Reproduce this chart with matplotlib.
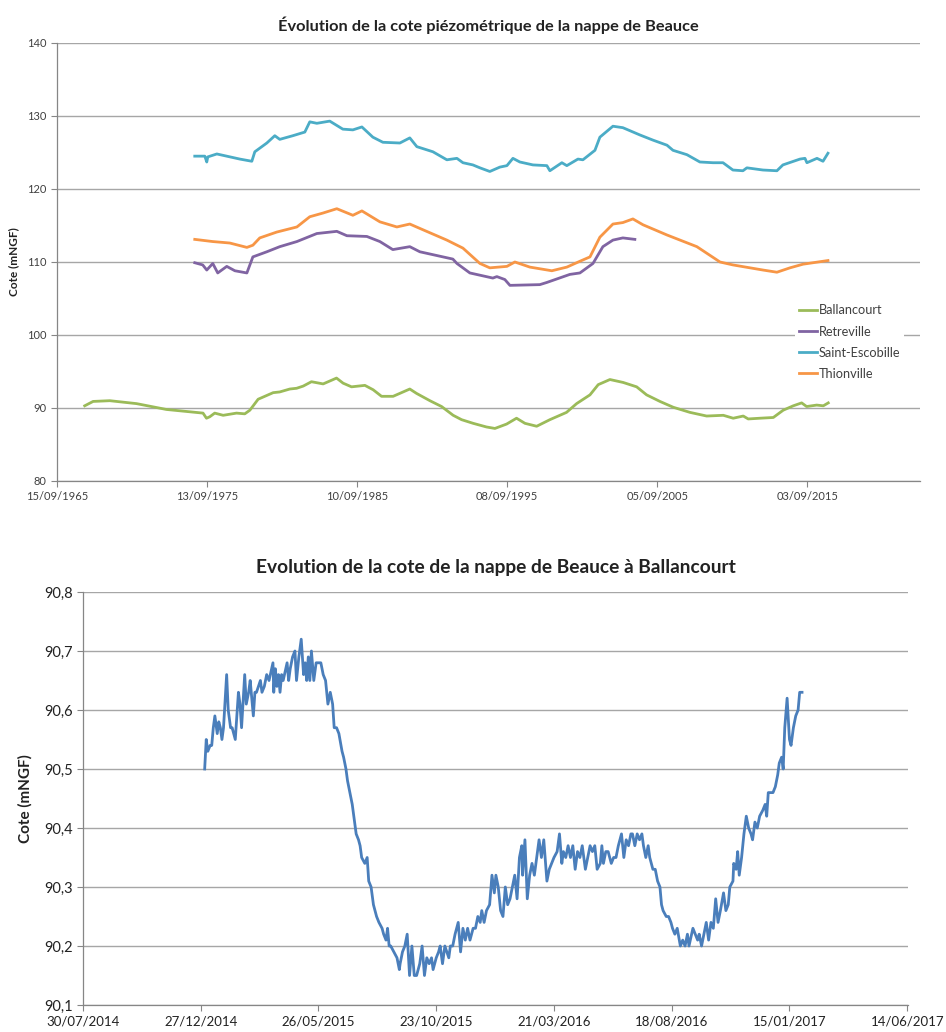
import matplotlib
matplotlib.use("Agg")
import matplotlib.pyplot as plt
import matplotlib.dates as mdates
from matplotlib.ticker import FixedLocator, FuncFormatter
import pandas as pd
import numpy as np

plt.rcParams['font.family'] = ['Lato', 'DejaVu Sans']

# ---------------- Top chart data (decimal years, mNGF) ----------------
ball_years = [1967.55, 1968.11, 1969.22, 1971.00, 1972.99, 1975.43, 1975.66, 1975.88, 1976.21, 1976.77,
              1977.66, 1978.21, 1978.55, 1979.10, 1980.10, 1980.54, 1981.21, 1981.66, 1982.10, 1982.65,
              1983.43, 1983.99, 1984.32, 1984.76, 1985.32, 1986.21, 1986.76, 1987.32, 1988.09, 1989.20,
              1989.65, 1990.54, 1991.32, 1992.09, 1992.65, 1993.42, 1994.31, 1994.87, 1995.65, 1996.31,
              1996.87, 1997.65, 1998.53, 1999.64, 2000.31, 2001.20, 2001.75, 2002.53, 2003.41, 2004.31,
              2004.97, 2005.86, 2006.75, 2007.86, 2008.97, 2010.08, 2010.74, 2011.41, 2011.74, 2012.52,
              2013.41, 2014.07, 2014.74, 2015.30, 2015.63, 2016.30, 2016.74, 2017.07]
ball_vals = [90.3, 90.9, 91.0, 90.6, 89.8, 89.3, 88.6, 88.8, 89.3, 89.0,
             89.3, 89.2, 89.7, 91.2, 92.1, 92.2, 92.6, 92.7, 93.0, 93.6,
             93.3, 93.8, 94.1, 93.4, 92.9, 93.1, 92.5, 91.6, 91.6, 92.6,
             92.0, 91.0, 90.2, 89.0, 88.4, 87.9, 87.4, 87.2, 87.8, 88.6,
             87.9, 87.5, 88.4, 89.4, 90.6, 91.8, 93.2, 93.9, 93.5, 92.9,
             91.8, 90.9, 90.1, 89.4, 88.9, 89.0, 88.6, 88.9, 88.5, 88.6,
             88.7, 89.7, 90.3, 90.7, 90.2, 90.4, 90.3, 90.7]

retr_years = [1974.88, 1975.41, 1975.68, 1976.08, 1976.41, 1977.01, 1977.55, 1978.35, 1978.75, 1979.68,
              1980.54, 1981.68, 1983.01, 1984.34, 1985.01, 1986.34, 1987.21, 1988.07, 1989.20, 1989.87,
              1992.07, 1992.34, 1993.20, 1994.73, 1995.00, 1995.53, 1995.87, 1997.86, 1998.33, 1999.86,
              2000.53, 2001.40, 2002.06, 2002.73, 2003.39, 2004.19]
retr_vals = [109.9, 109.6, 108.9, 109.8, 108.5, 109.4, 108.8, 108.5, 110.7, 111.4,
             112.1, 112.8, 113.9, 114.2, 113.6, 113.5, 112.8, 111.7, 112.1, 111.4,
             110.4, 109.8, 108.5, 107.8, 108.0, 107.6, 106.8, 106.9, 107.2, 108.3,
             108.5, 109.8, 112.1, 113.0, 113.3, 113.1]

stesc_years = [1974.88, 1975.55, 1975.68, 1975.75, 1976.35, 1977.88, 1978.68, 1978.88, 1979.68, 1980.21,
               1980.54, 1981.41, 1982.21, 1982.54, 1983.01, 1983.87, 1984.74, 1985.41, 1986.01, 1986.74,
               1987.41, 1988.54, 1989.20, 1989.67, 1990.74, 1991.67, 1992.34, 1992.74, 1993.40, 1993.87,
               1994.53, 1995.20, 1995.67, 1996.07, 1996.53, 1997.40, 1998.33, 1998.53, 1999.33, 1999.66,
               2000.40, 2000.73, 2001.53, 2001.86, 2002.73, 2003.39, 2004.53, 2005.39, 2006.33, 2006.73,
               2007.66, 2008.52, 2009.39, 2010.06, 2010.72, 2011.39, 2011.65, 2012.72, 2013.65, 2014.05,
               2015.19, 2015.52, 2015.65, 2016.32, 2016.72, 2017.05]
stesc_vals = [124.5, 124.5, 123.7, 124.4, 124.8, 124.1, 123.8, 125.1, 126.3, 127.3,
              126.8, 127.3, 127.8, 129.2, 129.0, 129.3, 128.2, 128.1, 128.5, 127.1,
              126.4, 126.3, 127.0, 125.8, 125.1, 124.0, 124.2, 123.6, 123.3, 122.9,
              122.4, 123.0, 123.2, 124.2, 123.7, 123.3, 123.2, 122.5, 123.6, 123.2,
              124.1, 124.0, 125.3, 127.1, 128.6, 128.4, 127.4, 126.7, 126.0, 125.3,
              124.7, 123.7, 123.6, 123.6, 122.6, 122.5, 122.9, 122.6, 122.5, 123.3,
              124.1, 124.2, 123.6, 124.2, 123.8, 124.9]

thion_years = [1974.88, 1976.08, 1977.21, 1978.35, 1978.75, 1979.21, 1980.34, 1981.68, 1982.54, 1983.41,
               1984.34, 1985.41, 1986.01, 1987.21, 1988.34, 1989.20, 1989.87, 1991.67, 1992.74, 1993.87,
               1994.53, 1995.67, 1996.20, 1997.20, 1998.66, 1999.66, 2000.53, 2001.20, 2001.86, 2002.73,
               2003.39, 2004.06, 2004.73, 2006.33, 2008.32, 2009.86, 2010.72, 2012.72, 2013.65, 2014.52,
               2015.39, 2017.05]
thion_vals = [113.1, 112.8, 112.6, 112.0, 112.3, 113.3, 114.1, 114.8, 116.2, 116.7,
              117.3, 116.4, 117.0, 115.5, 114.8, 115.2, 114.6, 113.0, 111.9, 109.8,
              109.2, 109.4, 110.0, 109.3, 108.8, 109.3, 110.1, 110.7, 113.4, 115.2,
              115.4, 115.9, 115.1, 113.7, 112.1, 110.0, 109.6, 108.9, 108.6, 109.2,
              109.7, 110.2]

top_title = "Évolution de la cote piézométrique de la nappe de Beauce"
top_ylabel = "Cote (mNGF)"
top_xtick_labels = ["15/09/1965", "13/09/1975", "10/09/1985", "08/09/1995", "05/09/2005", "03/09/2015"]
top_yticks = [80, 90, 100, 110, 120, 130, 140]

# ---------------- Bottom chart data (days since 30/07/2014, mNGF) ----------------
bot_base = "2014-07-30"
bot_days = [155, 157, 159, 162, 164, 166, 168, 171, 173, 175,
            177, 179, 183, 185, 188, 190, 194, 198, 200, 202,
            206, 208, 211, 213, 215, 217, 219, 221, 226, 228,
            231, 234, 237, 242, 243, 245, 247, 249, 251, 253,
            255, 260, 262, 264, 267, 270, 272, 275, 278, 281,
            283, 285, 287, 289, 291, 294, 297, 300, 303, 306,
            309, 312, 315, 318, 320, 323, 326, 330, 332, 335,
            337, 340, 343, 346, 348, 351, 353, 355, 359, 362,
            364, 367, 370, 374, 377, 381, 383, 386, 388, 390,
            392, 396, 400, 403,
            404, 407, 410, 413, 416, 419, 422, 425, 429, 432,
            435, 438, 441, 444, 446, 450, 453, 455, 458, 461,
            466, 468, 471, 474, 478, 481, 484, 487, 490, 493,
            497, 500, 503, 506, 508, 511, 514, 518, 521, 524,
            526, 529, 532, 535, 538, 541, 544, 547, 550, 553,
            556, 559, 560, 563, 566, 569, 572, 575, 578, 581,
            584, 587, 591, 594, 597, 600, 604, 607, 610, 612,
            615, 618, 621, 624, 627, 630, 633, 636, 640, 643,
            646, 649, 652, 655,
            659, 661, 663, 666, 669, 673, 676, 679, 682, 686,
            689, 692, 695, 698, 700, 703, 706, 709, 712, 714,
            717, 720, 722, 726, 729, 732, 735, 737, 739, 743,
            746, 749, 751, 754, 757, 761, 764, 767, 770, 772,
            777, 780, 783, 785, 788, 791, 794, 797, 800, 803,
            806, 809, 812, 816, 819, 822, 824, 828, 829, 832,
            834, 836, 839, 842, 845, 848, 851, 853, 856, 859,
            862, 866, 869, 871, 873, 876, 879, 882, 885, 887,
            890, 892, 894, 897, 900, 902, 905, 908, 911, 913,
            916]
bot_vals = [90.50, 90.55, 90.53, 90.54, 90.54, 90.57, 90.59, 90.56, 90.58, 90.57,
            90.55, 90.57, 90.66, 90.60, 90.57, 90.57, 90.55, 90.63, 90.61, 90.57,
            90.66, 90.61, 90.63, 90.65, 90.62, 90.59, 90.63, 90.63, 90.65, 90.63,
            90.64, 90.66, 90.65, 90.68, 90.63, 90.67, 90.64, 90.66, 90.63, 90.66,
            90.65, 90.68, 90.65, 90.67, 90.69, 90.70, 90.65, 90.69, 90.72, 90.66,
            90.68, 90.65, 90.69, 90.65, 90.70, 90.65, 90.68, 90.68, 90.68, 90.66,
            90.65, 90.61, 90.63, 90.61, 90.57, 90.57, 90.56, 90.53, 90.52, 90.50,
            90.48, 90.46, 90.44, 90.41, 90.39, 90.38, 90.37, 90.35, 90.34, 90.35,
            90.31, 90.30, 90.27, 90.25, 90.24, 90.23, 90.22, 90.21, 90.23, 90.20,
            90.20, 90.19, 90.18, 90.16,
            90.17, 90.19, 90.20, 90.22, 90.15, 90.20, 90.15, 90.15, 90.17, 90.20,
            90.15, 90.18, 90.17, 90.18, 90.16, 90.18, 90.19, 90.20, 90.17, 90.20,
            90.18, 90.20, 90.20, 90.22, 90.24, 90.19, 90.23, 90.21, 90.23, 90.21,
            90.23, 90.23, 90.25, 90.24, 90.26, 90.24, 90.26, 90.27, 90.32, 90.29,
            90.32, 90.30, 90.26, 90.25, 90.30, 90.27, 90.28, 90.30, 90.32, 90.28,
            90.35, 90.37, 90.32, 90.38, 90.28, 90.32, 90.34, 90.32, 90.35, 90.38,
            90.35, 90.38, 90.31, 90.33, 90.34, 90.35, 90.36, 90.39, 90.34, 90.36,
            90.35, 90.37, 90.35, 90.37, 90.33, 90.36, 90.35, 90.37, 90.33, 90.35,
            90.37, 90.36, 90.37, 90.33,
            90.34, 90.37, 90.34, 90.36, 90.36, 90.34, 90.35, 90.35, 90.37, 90.39,
            90.35, 90.38, 90.37, 90.39, 90.39, 90.37, 90.39, 90.38, 90.39, 90.37,
            90.35, 90.37, 90.35, 90.33, 90.33, 90.31, 90.30, 90.27, 90.26, 90.25,
            90.25, 90.24, 90.23, 90.22, 90.23, 90.20, 90.21, 90.20, 90.22, 90.20,
            90.23, 90.22, 90.21, 90.22, 90.20, 90.22, 90.24, 90.21, 90.24, 90.23,
            90.28, 90.24, 90.26, 90.29, 90.26, 90.27, 90.30, 90.31, 90.34, 90.33,
            90.36, 90.32, 90.35, 90.39, 90.42, 90.40, 90.39, 90.38, 90.41, 90.40,
            90.42, 90.43, 90.44, 90.42, 90.46, 90.46, 90.46, 90.47, 90.49, 90.51,
            90.52, 90.50, 90.57, 90.62, 90.55, 90.54, 90.57, 90.59, 90.60, 90.63,
            90.63]

bot_title = "Evolution de la cote de la nappe de Beauce à Ballancourt"
bot_ylabel = "Cote (mNGF)"
bot_xtick_labels = ["30/07/2014", "27/12/2014", "26/05/2015", "23/10/2015",
                    "21/03/2016", "18/08/2016", "15/01/2017", "14/06/2017"]
bot_yticks = [90.1, 90.2, 90.3, 90.4, 90.5, 90.6, 90.7, 90.8]


def decyear_to_dt(years):
    out = []
    for y in years:
        yi = int(np.floor(y))
        start = pd.Timestamp(year=yi, month=1, day=1)
        end = pd.Timestamp(year=yi + 1, month=1, day=1)
        out.append(start + (end - start) * (y - yi))
    return pd.to_datetime(out)


GRID = '#a6a6a6'
AXC = '#868686'
TXT = '#404040'

fig = plt.figure(figsize=(9.46, 10.32), dpi=100)

# ---------------- Top chart ----------------
ax1 = fig.add_axes([57 / 946, 1 - 481 / 1032, 863 / 946, 438 / 1032])
series = [
    ("Ballancourt", ball_years, ball_vals, '#9bbb59'),
    ("Retreville", retr_years, retr_vals, '#8064a2'),
    ("Saint-Escobille", stesc_years, stesc_vals, '#4bacc6'),
    ("Thionville", thion_years, thion_vals, '#f79646'),
]
for name, yrs, vals, col in series:
    ax1.plot(decyear_to_dt(yrs), vals, color=col, lw=2.0, label=name, solid_joinstyle='round')

top_tick_dates = pd.to_datetime(top_xtick_labels, format="%d/%m/%Y")
ax1.set_xlim(mdates.date2num(pd.Timestamp("1965-09-15")), mdates.date2num(pd.Timestamp("2023-03-08")))
ax1.xaxis.set_major_locator(FixedLocator(mdates.date2num(top_tick_dates)))
ax1.set_xticklabels(top_xtick_labels)
ax1.set_ylim(80, 140)
ax1.set_yticks(top_yticks)
ax1.yaxis.grid(True, color=GRID, lw=1.0)
ax1.set_axisbelow(True)
for s in ['top', 'right']:
    ax1.spines[s].set_visible(False)
for s in ['left', 'bottom']:
    ax1.spines[s].set_color(AXC)
    ax1.spines[s].set_linewidth(0.9)
ax1.tick_params(axis='both', colors=AXC, labelcolor=TXT, labelsize=8, length=4, width=0.8)
ax1.set_title(top_title, fontsize=11.8, fontweight='bold', color='#222222', pad=9)
ax1.set_ylabel(top_ylabel, fontsize=8.5, fontweight='bold', color='#222222', labelpad=6)
leg = ax1.legend(loc='center left', bbox_to_anchor=(0.855, 0.317), frameon=True, fontsize=9.2,
                 handlelength=1.4, handletextpad=0.15, labelspacing=0.72, borderaxespad=0,
                 borderpad=0.3)
leg.get_frame().set_edgecolor('none')
leg.get_frame().set_facecolor('white')
leg.get_frame().set_alpha(1)
for t in leg.get_texts():
    t.set_color(TXT)

# ---------------- Bottom chart ----------------
ax2 = fig.add_axes([83 / 946, 1 - 1005 / 1032, 825 / 946, 413 / 1032])
bdates = pd.Timestamp(bot_base) + pd.to_timedelta(bot_days, unit='D')
ax2.plot(bdates, bot_vals, color='#4a7ebb', lw=2.0, solid_joinstyle='round')
bot_tick_dates = pd.to_datetime(bot_xtick_labels, format="%d/%m/%Y")
ax2.set_xlim(mdates.date2num(bot_tick_dates[0]), mdates.date2num(bot_tick_dates[-1]) + 1)
ax2.xaxis.set_major_locator(FixedLocator(mdates.date2num(bot_tick_dates)))
ax2.set_xticklabels(bot_xtick_labels)
ax2.set_ylim(90.1, 90.8)
ax2.set_yticks(bot_yticks)
ax2.yaxis.set_major_formatter(FuncFormatter(lambda v, p: f"{v:.1f}".replace('.', ',')))
ax2.yaxis.grid(True, color=GRID, lw=1.0)
ax2.set_axisbelow(True)
for s in ['top', 'right']:
    ax2.spines[s].set_visible(False)
for s in ['left', 'bottom']:
    ax2.spines[s].set_color(AXC)
    ax2.spines[s].set_linewidth(0.9)
ax2.tick_params(axis='both', colors=AXC, labelcolor='#222222', length=4, width=0.8)
ax2.tick_params(axis='x', labelsize=9.5)
ax2.tick_params(axis='y', labelsize=10.5)
ax2.set_title(bot_title, fontsize=13.8, fontweight='bold', color='#222222', pad=14)
ax2.set_ylabel(bot_ylabel, fontsize=11, fontweight='bold', color='#222222', labelpad=8)

fig.savefig("out.png", dpi=100)
